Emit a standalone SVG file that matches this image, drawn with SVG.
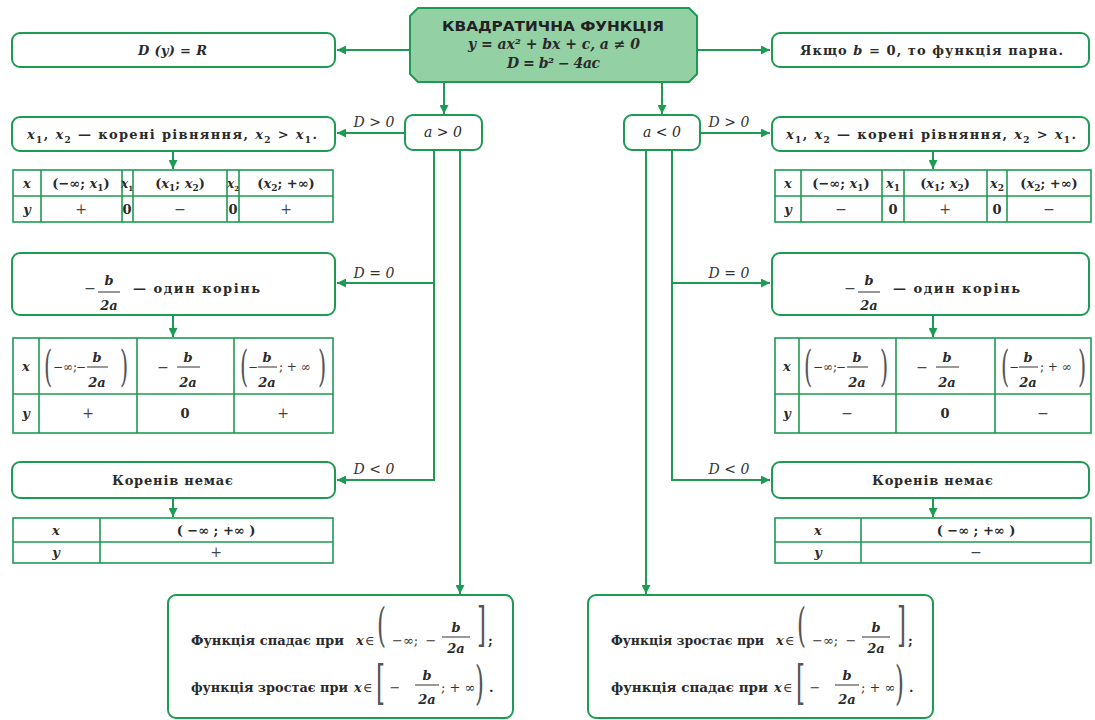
<svg xmlns="http://www.w3.org/2000/svg" width="1095" height="720" viewBox="0 0 1095 720">
<defs>
<marker id="ah" viewBox="0 0 10 10" markerUnits="userSpaceOnUse" markerWidth="9" markerHeight="9" refX="10" refY="5" orient="auto">
<path d="M0,0 L10,5 L0,10 z" fill="#1e9b53"/>
</marker>
<style>
.box{fill:#fff;stroke:#1e9b53;stroke-width:2}
.tb{fill:#fff;stroke:#1e9b53;stroke-width:1.6}
.tl{stroke:#1e9b53;stroke-width:1.6;fill:none}
.ln{stroke:#1e9b53;stroke-width:2;fill:none}
.ar{stroke:#1e9b53;stroke-width:2;fill:none;marker-end:url(#ah)}
.t{font-family:"DejaVu Serif","Liberation Serif","Noto Serif",serif;font-size:13px;font-weight:bold;fill:#2a2a2a}
.i{font-family:"DejaVu Serif","Liberation Serif","Noto Serif",serif;font-size:13px;font-style:italic;font-weight:bold;fill:#2a2a2a}
.n{font-family:"DejaVu Serif","Liberation Serif","Noto Serif",serif;font-size:14px;fill:#444}
.r{font-family:"DejaVu Serif","Liberation Serif","Noto Serif",serif;font-size:12px;fill:#333}
.rb{font-family:"DejaVu Serif","Liberation Serif","Noto Serif",serif;font-size:13px;fill:#333}
.lbl{font-family:"DejaVu Serif","Liberation Serif","Noto Serif",serif;font-size:14px;font-style:italic;fill:#333}
.s{font-size:9px;font-style:normal}
.big{font-family:"DejaVu Serif","Liberation Serif",serif;font-size:46px;fill:#555}
.mid{font-family:"DejaVu Serif","Liberation Serif",serif;font-size:42px;fill:#555}
.fb{stroke:#333;stroke-width:1}
.title{font-family:"DejaVu Sans",sans-serif;font-size:14px;font-weight:bold;fill:#222}
</style>
</defs>

<g id="connectors">
<line class="ar" x1="410" y1="50" x2="337" y2="50"/>
<line class="ar" x1="697" y1="50" x2="770" y2="50"/>
<line class="ar" x1="444" y1="82" x2="444" y2="114"/>
<line class="ar" x1="662" y1="82" x2="662" y2="114"/>
<line class="ar" x1="405" y1="133" x2="337" y2="133"/>
<line class="ar" x1="700" y1="133" x2="770" y2="133"/>
<line class="ar" x1="173" y1="151" x2="173" y2="169"/>
<line class="ar" x1="933" y1="151" x2="933" y2="169"/>
<line class="ln" x1="434" y1="150" x2="434" y2="480"/>
<line class="ar" x1="434" y1="283" x2="337" y2="283"/>
<line class="ar" x1="435" y1="480" x2="337" y2="480"/>
<line class="ar" x1="460" y1="150" x2="460" y2="594"/>
<line class="ln" x1="672" y1="150" x2="672" y2="480"/>
<line class="ar" x1="672" y1="283" x2="770" y2="283"/>
<line class="ar" x1="671" y1="480" x2="770" y2="480"/>
<line class="ar" x1="646" y1="150" x2="646" y2="594"/>
<line class="ar" x1="173" y1="315" x2="173" y2="337"/>
<line class="ar" x1="933" y1="315" x2="933" y2="337"/>
<line class="ar" x1="173" y1="498" x2="173" y2="517"/>
<line class="ar" x1="933" y1="498" x2="933" y2="517"/>
<text class="lbl" x="374" y="127" text-anchor="middle">D &gt; 0</text>
<text class="lbl" x="729" y="127" text-anchor="middle">D &gt; 0</text>
<text class="lbl" x="374" y="278" text-anchor="middle">D = 0</text>
<text class="lbl" x="729" y="278" text-anchor="middle">D = 0</text>
<text class="lbl" x="374" y="474" text-anchor="middle">D &lt; 0</text>
<text class="lbl" x="729" y="474" text-anchor="middle">D &lt; 0</text>
</g>

<g id="main">
<polygon points="418,8 689,8 697,16 697,74 689,82 418,82 410,74 410,16" fill="#93d1a5" stroke="#1e9b53" stroke-width="2"/>
<text class="title" x="442" y="31" textLength="222" lengthAdjust="spacingAndGlyphs">КВАДРАТИЧНА  ФУНКЦІЯ</text>
<text class="i" x="468" y="49" style="font-size:14px" textLength="172">y = ax² + bx + c,  a ≠ 0</text>
<text class="i" x="507" y="68" style="font-size:14px" textLength="93">D = b² − 4ac</text>
</g>

<g id="domain">
<rect class="box" x="12" y="33" width="323" height="34" rx="8"/>
<text class="i" x="138" y="55" textLength="69">D (y) = R</text>
</g>

<g id="even">
<rect class="box" x="772" y="33" width="317" height="34" rx="8"/>
<text class="t" x="800" y="55" textLength="263">Якщо <tspan class="i">b</tspan> = 0, то функція парна.</text>
</g>

<g id="apos">
<rect class="box" x="405" y="115" width="77" height="35" rx="8"/>
<text class="i" x="443" y="137" text-anchor="middle" style="font-weight:normal;font-size:14px">a &gt; 0</text>
</g>
<g id="aneg">
<rect class="box" x="624" y="115" width="76" height="35" rx="8"/>
<text class="i" x="662" y="137" text-anchor="middle" style="font-weight:normal;font-size:14px">a &lt; 0</text>
</g>

<g id="left-roots">
<rect class="box" x="12" y="117" width="323" height="34" rx="8"/>
<text class="t" x="27" y="139" textLength="290"><tspan class="i">x</tspan><tspan class="s" dy="4">1</tspan><tspan dy="-4">, </tspan><tspan class="i">x</tspan><tspan class="s" dy="4">2</tspan><tspan dy="-4"> — корені рівняння, </tspan><tspan class="i">x</tspan><tspan class="s" dy="4">2</tspan><tspan dy="-4"> &gt; </tspan><tspan class="i">x</tspan><tspan class="s" dy="4">1</tspan><tspan dy="-4">.</tspan></text>
</g>
<g id="left-table1">
<rect class="tb" x="13" y="170" width="320" height="52"/>
<path class="tl" d="M13,196H333M41,170V222M122,170V222M133,170V222M227,170V222M239,170V222"/>
<text class="i" x="27" y="188" text-anchor="middle">x</text>
<text class="t" x="81" y="188" text-anchor="middle">(−∞; <tspan class="i">x</tspan><tspan class="s" dy="3">1</tspan><tspan dy="-3">)</tspan></text>
<text class="i" x="127" y="188" text-anchor="middle" style="font-size:12px">x<tspan class="s" dy="3" style="font-size:7px">1</tspan></text>
<text class="t" x="180" y="188" text-anchor="middle">(<tspan class="i">x</tspan><tspan class="s" dy="3">1</tspan><tspan dy="-3">; </tspan><tspan class="i">x</tspan><tspan class="s" dy="3">2</tspan><tspan dy="-3">)</tspan></text>
<text class="i" x="233" y="188" text-anchor="middle" style="font-size:12px">x<tspan class="s" dy="3" style="font-size:7px">2</tspan></text>
<text class="t" x="286" y="188" text-anchor="middle">(<tspan class="i">x</tspan><tspan class="s" dy="3">2</tspan><tspan dy="-3">; +∞)</tspan></text>
<text class="i" x="27" y="214" text-anchor="middle">y</text>
<text class="n" x="81" y="214" text-anchor="middle">+</text>
<text class="t" x="127" y="214" text-anchor="middle">0</text>
<text class="n" x="180" y="214" text-anchor="middle">−</text>
<text class="t" x="233" y="214" text-anchor="middle">0</text>
<text class="n" x="286" y="214" text-anchor="middle">+</text>
</g>

<g id="right-roots">
<rect class="box" x="772" y="117" width="317" height="34" rx="8"/>
<text class="t" x="786" y="139" textLength="290"><tspan class="i">x</tspan><tspan class="s" dy="4">1</tspan><tspan dy="-4">, </tspan><tspan class="i">x</tspan><tspan class="s" dy="4">2</tspan><tspan dy="-4"> — корені рівняння, </tspan><tspan class="i">x</tspan><tspan class="s" dy="4">2</tspan><tspan dy="-4"> &gt; </tspan><tspan class="i">x</tspan><tspan class="s" dy="4">1</tspan><tspan dy="-4">.</tspan></text>
</g>
<g id="right-table1">
<rect class="tb" x="775" y="170" width="316" height="52"/>
<path class="tl" d="M775,196H1091M801,170V222M882,170V222M904,170V222M987,170V222M1007,170V222"/>
<text class="i" x="788" y="188" text-anchor="middle">x</text>
<text class="t" x="841" y="188" text-anchor="middle">(−∞; <tspan class="i">x</tspan><tspan class="s" dy="3">1</tspan><tspan dy="-3">)</tspan></text>
<text class="i" x="893" y="188" text-anchor="middle">x<tspan class="s" dy="3">1</tspan></text>
<text class="t" x="945" y="188" text-anchor="middle">(<tspan class="i">x</tspan><tspan class="s" dy="3">1</tspan><tspan dy="-3">; </tspan><tspan class="i">x</tspan><tspan class="s" dy="3">2</tspan><tspan dy="-3">)</tspan></text>
<text class="i" x="997" y="188" text-anchor="middle">x<tspan class="s" dy="3">2</tspan></text>
<text class="t" x="1049" y="188" text-anchor="middle">(<tspan class="i">x</tspan><tspan class="s" dy="3">2</tspan><tspan dy="-3">; +∞)</tspan></text>
<text class="i" x="788" y="214" text-anchor="middle">y</text>
<text class="n" x="841" y="214" text-anchor="middle">−</text>
<text class="t" x="893" y="214" text-anchor="middle">0</text>
<text class="n" x="945" y="214" text-anchor="middle">+</text>
<text class="t" x="997" y="214" text-anchor="middle">0</text>
<text class="n" x="1049" y="214" text-anchor="middle">−</text>
</g>

<g id="left-one-root">
<rect class="box" x="12" y="253" width="323" height="62" rx="8"/>
<text class="n" x="90" y="293" text-anchor="middle">−</text>
<text class="i" x="109" y="285" text-anchor="middle">b</text>
<line class="fb" x1="98" y1="292" x2="120" y2="292"/>
<text class="i" x="109" y="310" text-anchor="middle">2a</text>
<text class="t" x="133" y="293" textLength="127">— один корінь</text>
</g>
<g id="left-table2">
<rect class="tb" x="13" y="338" width="320" height="95"/>
<path class="tl" d="M13,394H333M39,338V433M137,338V433M234,338V433"/>
<text class="i" x="26" y="371" text-anchor="middle">x</text>
<text class="mid" transform="translate(44,381) scale(0.5,1)">(</text>
<text class="r" x="53" y="371">−∞;</text>
<text class="r" x="81" y="371" text-anchor="middle">−</text>
<text class="i" x="97" y="362" text-anchor="middle">b</text>
<line class="fb" x1="87" y1="367" x2="108" y2="367"/>
<text class="i" x="97" y="387" text-anchor="middle">2a</text>
<text class="mid" transform="translate(120,381) scale(0.5,1)">)</text>
<text class="n" x="163" y="372" text-anchor="middle">−</text>
<text class="i" x="188" y="362" text-anchor="middle">b</text>
<line class="fb" x1="177" y1="367" x2="200" y2="367"/>
<text class="i" x="188" y="387" text-anchor="middle">2a</text>
<text class="mid" transform="translate(240,381) scale(0.5,1)">(</text>
<text class="r" x="253" y="371" text-anchor="middle">−</text>
<text class="i" x="267" y="362" text-anchor="middle">b</text>
<line class="fb" x1="258" y1="367" x2="277" y2="367"/>
<text class="i" x="267" y="387" text-anchor="middle">2a</text>
<text class="r" x="279" y="371">; + ∞</text>
<text class="mid" transform="translate(318,381) scale(0.5,1)">)</text>
<text class="i" x="26" y="418" text-anchor="middle">y</text>
<text class="n" x="88" y="418" text-anchor="middle">+</text>
<text class="t" x="185" y="418" text-anchor="middle">0</text>
<text class="n" x="283" y="418" text-anchor="middle">+</text>
</g>

<g id="right-one-root">
<rect class="box" x="772" y="253" width="317" height="62" rx="8"/>
<text class="n" x="850" y="293" text-anchor="middle">−</text>
<text class="i" x="869" y="285" text-anchor="middle">b</text>
<line class="fb" x1="858" y1="292" x2="880" y2="292"/>
<text class="i" x="869" y="310" text-anchor="middle">2a</text>
<text class="t" x="893" y="293" textLength="127">— один корінь</text>
</g>
<g id="right-table2">
<rect class="tb" x="775" y="338" width="316" height="95"/>
<path class="tl" d="M775,394H1091M799,338V433M896,338V433M995,338V433"/>
<text class="i" x="787" y="371" text-anchor="middle">x</text>
<text class="mid" transform="translate(804,381) scale(0.5,1)">(</text>
<text class="r" x="813" y="371">−∞;</text>
<text class="r" x="841" y="371" text-anchor="middle">−</text>
<text class="i" x="857" y="362" text-anchor="middle">b</text>
<line class="fb" x1="847" y1="367" x2="868" y2="367"/>
<text class="i" x="857" y="387" text-anchor="middle">2a</text>
<text class="mid" transform="translate(880,381) scale(0.5,1)">)</text>
<text class="n" x="922" y="372" text-anchor="middle">−</text>
<text class="i" x="947" y="362" text-anchor="middle">b</text>
<line class="fb" x1="936" y1="367" x2="959" y2="367"/>
<text class="i" x="947" y="387" text-anchor="middle">2a</text>
<text class="mid" transform="translate(1001,381) scale(0.5,1)">(</text>
<text class="r" x="1014" y="371" text-anchor="middle">−</text>
<text class="i" x="1028" y="362" text-anchor="middle">b</text>
<line class="fb" x1="1019" y1="367" x2="1038" y2="367"/>
<text class="i" x="1028" y="387" text-anchor="middle">2a</text>
<text class="r" x="1040" y="371">; + ∞</text>
<text class="mid" transform="translate(1078,381) scale(0.5,1)">)</text>
<text class="i" x="787" y="418" text-anchor="middle">y</text>
<text class="n" x="847" y="418" text-anchor="middle">−</text>
<text class="t" x="945" y="418" text-anchor="middle">0</text>
<text class="n" x="1043" y="418" text-anchor="middle">−</text>
</g>

<g id="left-no-roots">
<rect class="box" x="12" y="462" width="323" height="36" rx="8"/>
<text class="t" x="112" y="485" textLength="121">Коренів немає</text>
</g>
<g id="left-table3">
<rect class="tb" x="13" y="518" width="320" height="45"/>
<path class="tl" d="M13,542H333M100,518V563"/>
<text class="i" x="56" y="535" text-anchor="middle">x</text>
<text class="t" x="216" y="535" text-anchor="middle">( −∞ ; +∞ )</text>
<text class="i" x="56" y="557" text-anchor="middle">y</text>
<text class="n" x="216" y="557" text-anchor="middle">+</text>
</g>

<g id="right-no-roots">
<rect class="box" x="772" y="462" width="317" height="36" rx="8"/>
<text class="t" x="872" y="485" textLength="121">Коренів немає</text>
</g>
<g id="right-table3">
<rect class="tb" x="775" y="518" width="316" height="45"/>
<path class="tl" d="M775,542H1091M861,518V563"/>
<text class="i" x="818" y="535" text-anchor="middle">x</text>
<text class="t" x="976" y="535" text-anchor="middle">( −∞ ; +∞ )</text>
<text class="i" x="818" y="557" text-anchor="middle">y</text>
<text class="n" x="976" y="557" text-anchor="middle">−</text>
</g>

<g id="left-monotonic">
<rect class="box" x="168" y="595" width="345" height="123" rx="8"/>
<text class="t" x="191" y="645" textLength="153" lengthAdjust="spacingAndGlyphs">Функція спадає при</text>
<text class="i" x="356" y="645">x</text>
<text class="rb" x="365" y="645">∈</text>
<text class="big" transform="translate(377,641) scale(0.5,1)">(</text>
<text class="rb" x="392" y="645">−∞;</text>
<text class="rb" x="431" y="645" text-anchor="middle">−</text>
<text class="i" x="456" y="632" text-anchor="middle">b</text>
<line class="fb" x1="442" y1="637" x2="470" y2="637"/>
<text class="i" x="456" y="653" text-anchor="middle">2a</text>
<text class="big" transform="translate(477,641) scale(0.5,1)">]</text>
<text class="t" x="488" y="645">;</text>
<text class="t" x="191" y="692" textLength="157" lengthAdjust="spacingAndGlyphs">функція зростає при</text>
<text class="i" x="354" y="692">x</text>
<text class="rb" x="363" y="692">∈</text>
<text class="big" transform="translate(376,699) scale(0.5,1)">[</text>
<text class="rb" x="395" y="692" text-anchor="middle">−</text>
<text class="i" x="427" y="680" text-anchor="middle">b</text>
<line class="fb" x1="415" y1="685" x2="439" y2="685"/>
<text class="i" x="427" y="704" text-anchor="middle">2a</text>
<text class="rb" x="441" y="692">; + ∞</text>
<text class="big" transform="translate(475,699) scale(0.5,1)">)</text>
<text class="t" x="489" y="692">.</text>
</g>

<g id="right-monotonic">
<rect class="box" x="588" y="595" width="345" height="123" rx="8"/>
<text class="t" x="611" y="645" textLength="153" lengthAdjust="spacingAndGlyphs">Функція зростає при</text>
<text class="i" x="776" y="645">x</text>
<text class="rb" x="785" y="645">∈</text>
<text class="big" transform="translate(797,641) scale(0.5,1)">(</text>
<text class="rb" x="812" y="645">−∞;</text>
<text class="rb" x="851" y="645" text-anchor="middle">−</text>
<text class="i" x="876" y="632" text-anchor="middle">b</text>
<line class="fb" x1="862" y1="637" x2="890" y2="637"/>
<text class="i" x="876" y="653" text-anchor="middle">2a</text>
<text class="big" transform="translate(897,641) scale(0.5,1)">]</text>
<text class="t" x="908" y="645">;</text>
<text class="t" x="611" y="692" textLength="157" lengthAdjust="spacingAndGlyphs">функція спадає при</text>
<text class="i" x="774" y="692">x</text>
<text class="rb" x="783" y="692">∈</text>
<text class="big" transform="translate(796,699) scale(0.5,1)">[</text>
<text class="rb" x="815" y="692" text-anchor="middle">−</text>
<text class="i" x="847" y="680" text-anchor="middle">b</text>
<line class="fb" x1="835" y1="685" x2="859" y2="685"/>
<text class="i" x="847" y="704" text-anchor="middle">2a</text>
<text class="rb" x="861" y="692">; + ∞</text>
<text class="big" transform="translate(895,699) scale(0.5,1)">)</text>
<text class="t" x="909" y="692">.</text>
</g>
</svg>
